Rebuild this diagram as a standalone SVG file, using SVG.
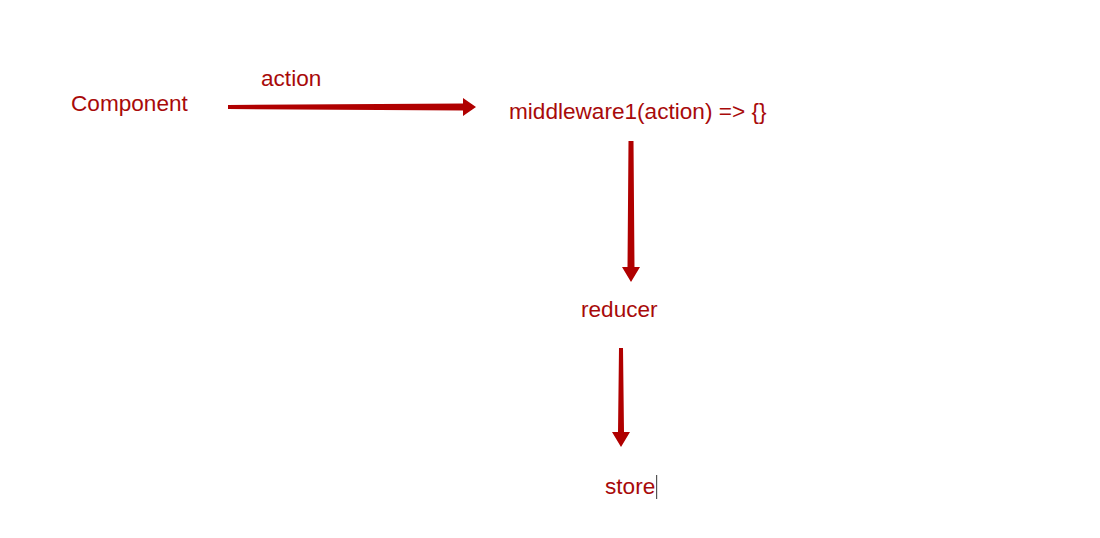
<svg xmlns="http://www.w3.org/2000/svg" width="1100" height="538" viewBox="0 0 1100 538">
<style>
.t{font-family:"Liberation Sans",Arial,sans-serif;font-size:22.6px;fill:#a80a0a}
.a{fill:#b00000}
</style>
<rect width="1100" height="538" fill="#ffffff"/>
<g id="component"><text class="t" x="71" y="111">Component</text></g>
<g id="middleware"><text class="t" x="509" y="119">middleware1(action) =&gt; {}</text></g>
<g id="reducer"><text class="t" x="581" y="317">reducer</text></g>
<g id="store"><text class="t" x="605" y="494">store</text><rect x="656" y="475" width="1.2" height="24" fill="#555"/></g>
<g id="connectors">
<polygon class="a" points="228,105 463,103.5 463,98 476,107 463,116 463,110.5 228,109"/>
<text class="t" x="261" y="86">action</text>
<polygon class="a" points="628.5,141 633.5,141 634.5,267 640,267 631,282 622,267 627.5,267"/>
<polygon class="a" points="619,348 623,348 624,432 630,432 621,447 612,432 618,432"/>
</g>
</svg>
